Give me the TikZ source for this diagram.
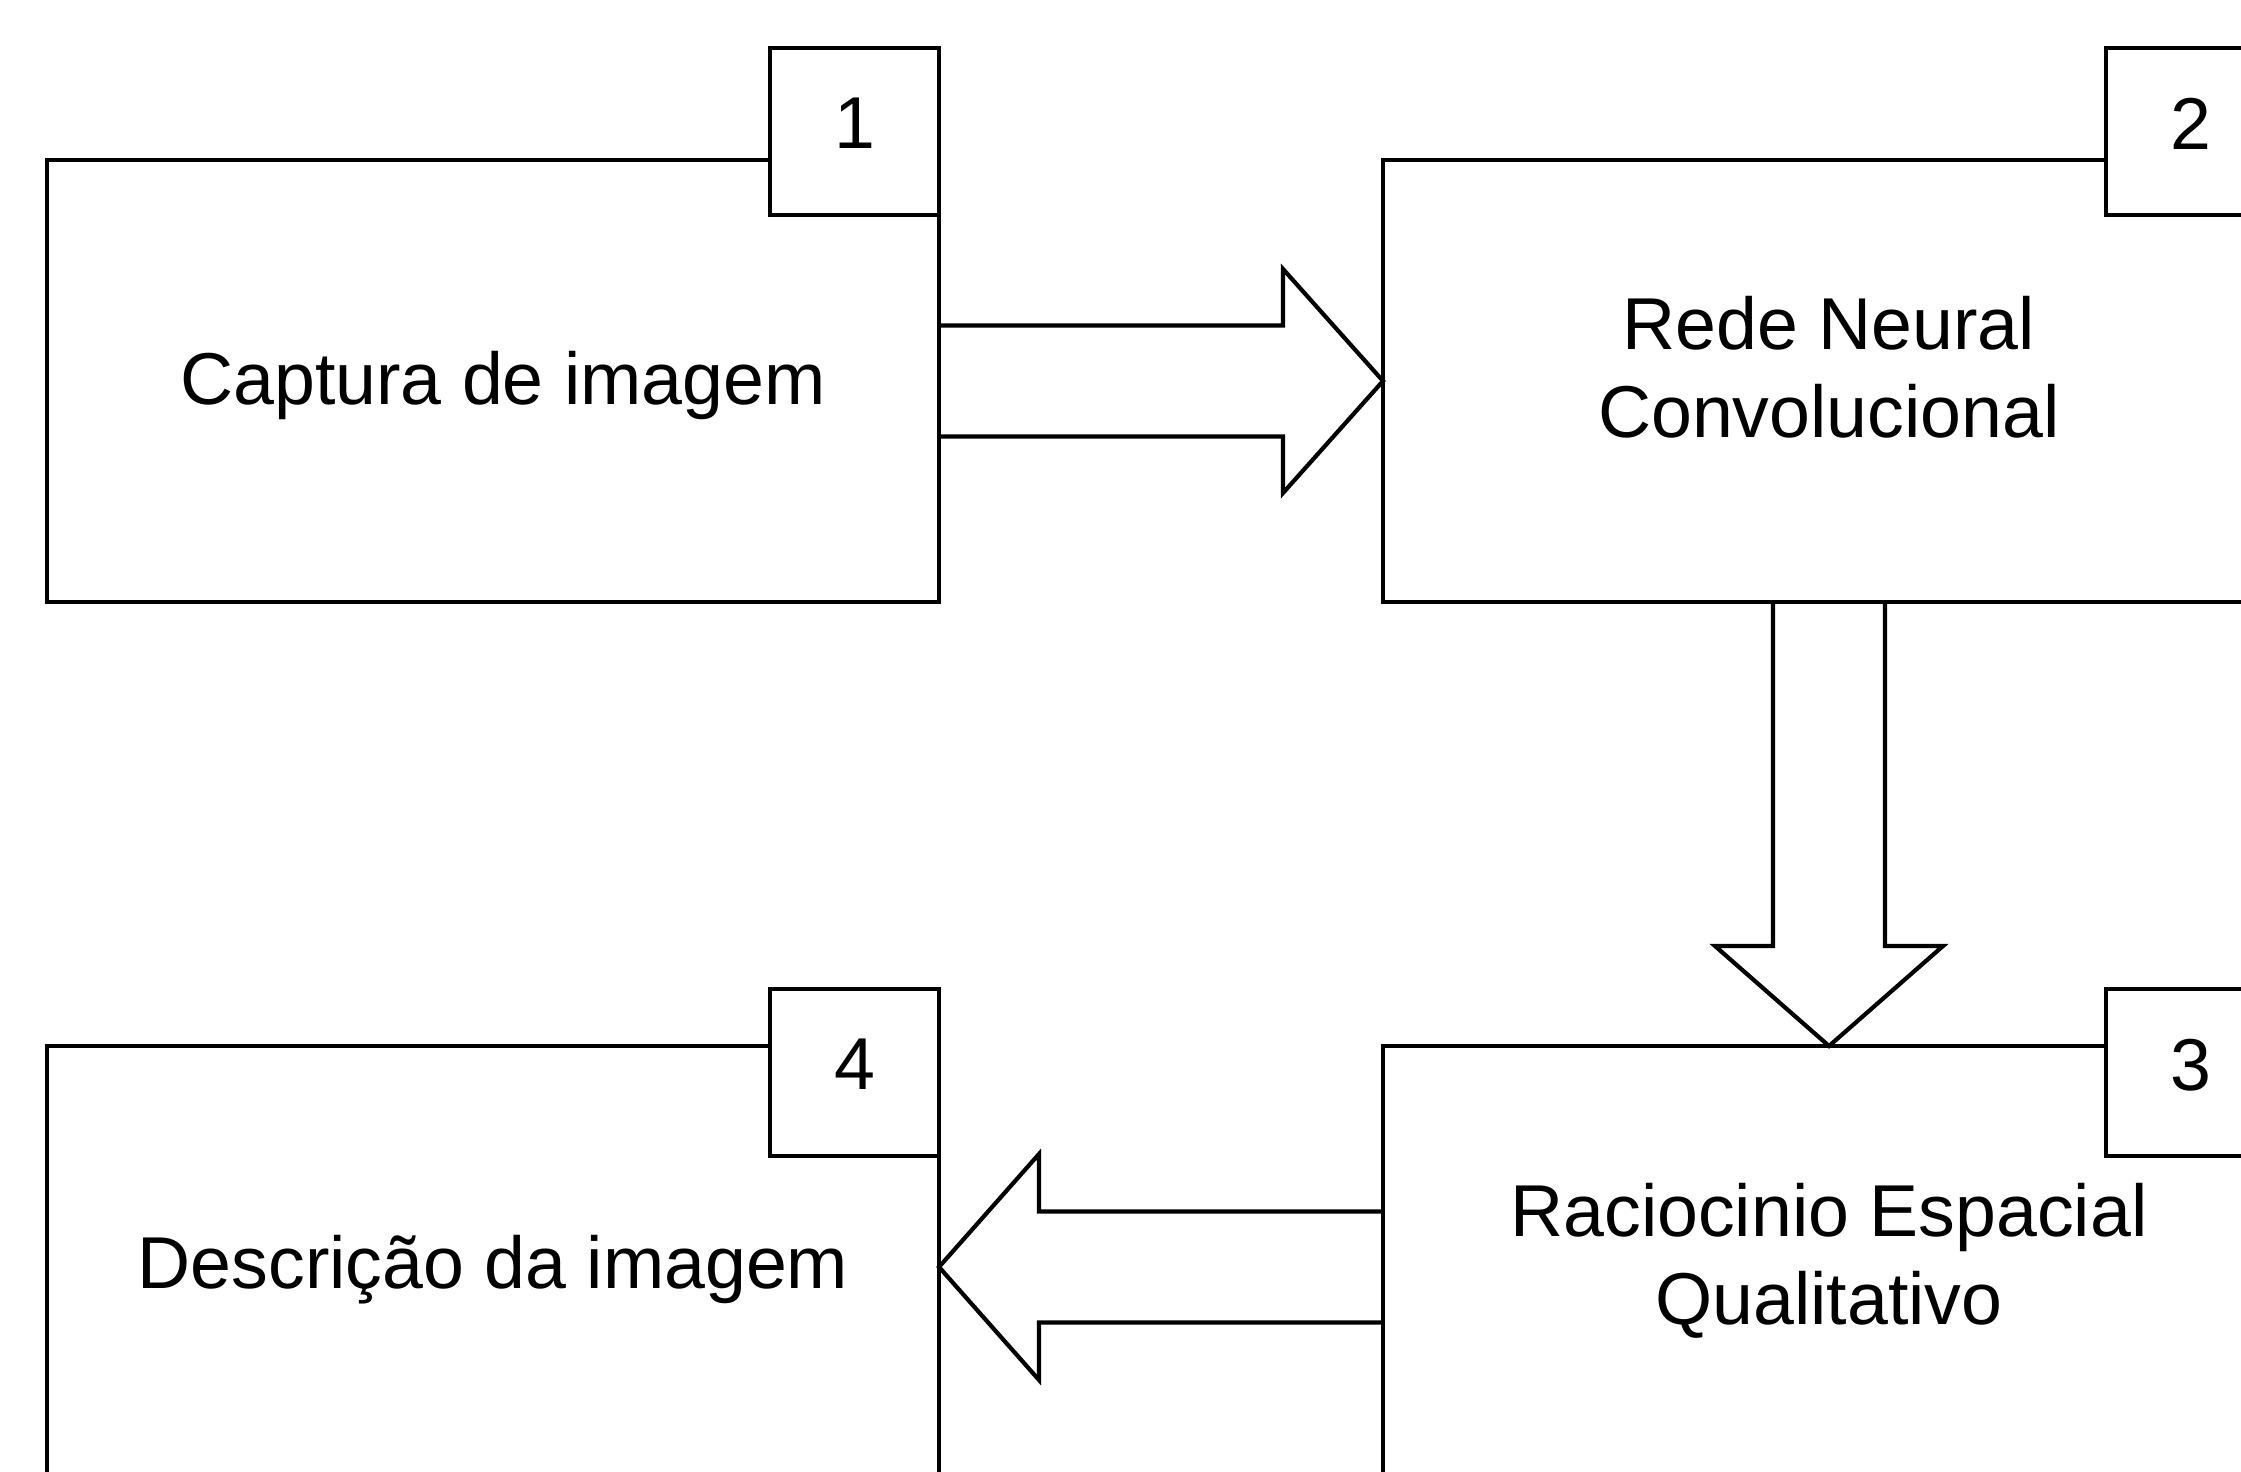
\documentclass[tikz,border=0pt]{standalone}
\usepackage{fontspec}
\setmainfont{Liberation Sans}
\usetikzlibrary{calc}
\begin{document}
\begin{tikzpicture}[x=1pt, y=-1pt,
  every node/.style={font=\fontsize{73.5}{88}\selectfont},
  stage/.style={draw, line width=4.2pt, fill=white, minimum width=892pt,
    minimum height=442pt, inner sep=0pt, outer sep=0pt},
  caption/.style={align=center, inner sep=0pt},
  numbox/.style={draw, line width=4.2pt, fill=white, minimum width=169pt,
    minimum height=167pt, inner sep=0pt, outer sep=0pt, text depth=16pt},
  fat/.style={draw, line width=4.2pt, line join=miter}]
% page area
\clip (0,0) rectangle (2241,1472);
\fill[white] (0,0) rectangle (2241,1472);

% processing stages
\node[stage] (b1) at (493,381)  {};
\node[stage] (b2) at (1829,381) {};
\node[stage] (b3) at (1829,1267) {};
\node[stage] (b4) at (493,1267) {};

% stage titles
\node[caption] (t1) at ([xshift=10pt,yshift=-4pt]b1.center) {Captura de imagem};
\node[caption] (t2) at ([yshift=14pt]b2.center) {Rede Neural\\Convolucional};
\node[caption] (t3) at ([yshift=6pt]b3.center) {Raciocinio Espacial\\Qualitativo};
\node[caption] (t4) at ([yshift=-3pt]b4.center) {Descrição da imagem};

% step numbers
\node[numbox, anchor=south east] (n1) at ([yshift=-55pt]b1.north east) {1};
\node[numbox, anchor=south east] (n2) at ([yshift=-55pt]b2.north east) {2};
\node[numbox, anchor=north east] (n3) at ([yshift=57pt]b3.north east) {3};
\node[numbox, anchor=north east] (n4) at ([yshift=57pt]b4.north east) {4};

% block arrows between the stages
\path[fat] ($(b1.east)+(0,-55.5)$) -- ($(b2.west)+(-100,-55.5)$)
  -- ($(b2.west)+(-100,-112)$) -- (b2.west) -- ($(b2.west)+(-100,112)$)
  -- ($(b2.west)+(-100,55.5)$) -- ($(b1.east)+(0,55.5)$);

\path[fat] ($(b2.south)+(-56,0)$) -- ($(b3.north)+(-56,-100)$)
  -- ($(b3.north)+(-114,-100)$) -- (b3.north) -- ($(b3.north)+(114,-100)$)
  -- ($(b3.north)+(56,-100)$) -- ($(b2.south)+(56,0)$);

\path[fat] ($(b3.west)+(0,-55.5)$) -- ($(b4.east)+(100,-55.5)$)
  -- ($(b4.east)+(100,-113)$) -- (b4.east) -- ($(b4.east)+(100,113)$)
  -- ($(b4.east)+(100,55.5)$) -- ($(b3.west)+(0,55.5)$);
\end{tikzpicture}
\end{document}
